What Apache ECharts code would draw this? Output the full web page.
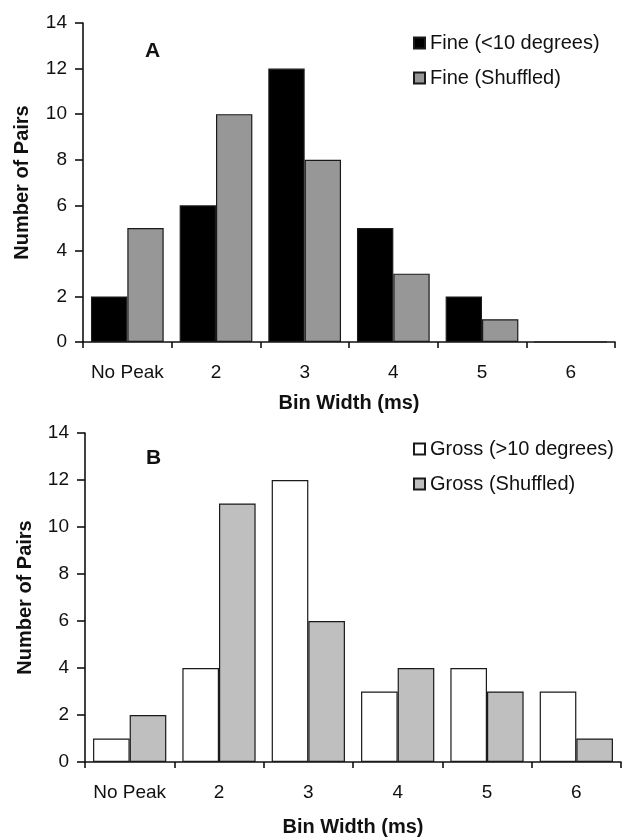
<!DOCTYPE html>
<html>
<head>
<meta charset="utf-8">
<script src="https://cdn.jsdelivr.net/npm/echarts@6/dist/echarts.min.js"></script>
<style>
  html, body { margin: 0; padding: 0; background: #fff; }
  #chart { width: 622px; height: 838px; }
</style>
</head>
<body>
<div id="chart"></div>
<script>
// ---- data ----
var categories = ['No Peak', '2', '3', '4', '5', '6'];
var fineNames = ['Fine (<10 degrees)', 'Fine (Shuffled)'];
var fineObserved = [2, 6, 12, 5, 2, 0];
var fineShuffled = [5, 10, 8, 3, 1, 0];
var grossNames = ['Gross (>10 degrees)', 'Gross (Shuffled)'];
var grossObserved = [1, 4, 12, 3, 4, 3];
var grossShuffled = [2, 11, 6, 4, 3, 1];
var yTicks = { min: 0, max: 14, interval: 2 };
var panelLabels = ['A', 'B'];
var xTitle = 'Bin Width (ms)';
var yTitle = 'Number of Pairs';

var FONT = '"Liberation Sans", Arial, Helvetica, sans-serif';
var chart = echarts.init(document.getElementById('chart'), null, { renderer: 'canvas' });

function xAxis(gridIndex, nameGap) {
  return {
    type: 'category', gridIndex: gridIndex, data: categories,
    boundaryGap: true,
    axisLine: { show: true, lineStyle: { color: '#111', width: 1.6 } },
    axisTick: { show: true, length: 6, inside: false, interval: 0, lineStyle: { color: '#111', width: 1.6 } },
    axisLabel: { fontFamily: FONT, fontSize: 19, color: '#111', margin: 21, interval: 0 },
    name: xTitle, nameLocation: 'middle', nameGap: nameGap,
    nameTextStyle: { fontFamily: FONT, fontSize: 20, fontWeight: 'bold', color: '#111' },
    splitLine: { show: false }
  };
}
function yAxis(gridIndex, nameGap) {
  return {
    type: 'value', gridIndex: gridIndex,
    min: yTicks.min, max: yTicks.max, interval: yTicks.interval,
    axisLine: { show: true, lineStyle: { color: '#111', width: 1.6 } },
    axisTick: { show: true, length: 8, inside: false, lineStyle: { color: '#111', width: 1.6 } },
    axisLabel: { fontFamily: FONT, fontSize: 19, color: '#111', margin: 16 },
    name: yTitle, nameLocation: 'middle', nameRotate: 90, nameGap: nameGap,
    nameTextStyle: { fontFamily: FONT, fontSize: 20, fontWeight: 'bold', color: '#111' },
    splitLine: { show: false }
  };
}
function barSeries(name, data, idx, fill) {
  return {
    type: 'bar', name: name, data: data,
    xAxisIndex: idx, yAxisIndex: idx,
    barGap: '0%', barCategoryGap: '18%',
    itemStyle: { color: fill, borderColor: '#1a1a1a', borderWidth: 1.2 },
    emphasis: { disabled: true },
    animation: false
  };
}
function legend(names, top) {
  return {
    data: names, orient: 'vertical', left: 408, top: top,
    itemWidth: 11, itemHeight: 11, itemGap: 15,
    icon: 'rect',
    textStyle: { fontFamily: FONT, fontSize: 20, color: '#111' },
    selectedMode: false
  };
}

chart.setOption({
  backgroundColor: '#fff',
  animation: false,
  grid: [
    { left: 83, right: 7, top: 23, height: 319 },
    { left: 85, right: 1, top: 433, height: 330 }
  ],
  title: [
    { text: panelLabels[0], left: 140, top: 36, textStyle: { fontFamily: FONT, fontSize: 21, fontWeight: 'bold', color: '#111' } },
    { text: panelLabels[1], left: 141, top: 443, textStyle: { fontFamily: FONT, fontSize: 21, fontWeight: 'bold', color: '#111' } }
  ],
  legend: [ legend(fineNames, 28), legend(grossNames, 434) ],
  xAxis: [ xAxis(0, 51), xAxis(1, 55) ],
  yAxis: [ yAxis(0, 51), yAxis(1, 50) ],
  series: [
    barSeries(fineNames[0], fineObserved, 0, '#000000'),
    barSeries(fineNames[1], fineShuffled, 0, '#979797'),
    barSeries(grossNames[0], grossObserved, 1, '#ffffff'),
    barSeries(grossNames[1], grossShuffled, 1, '#bfbfbf')
  ]
});
</script>
</body>
</html>
